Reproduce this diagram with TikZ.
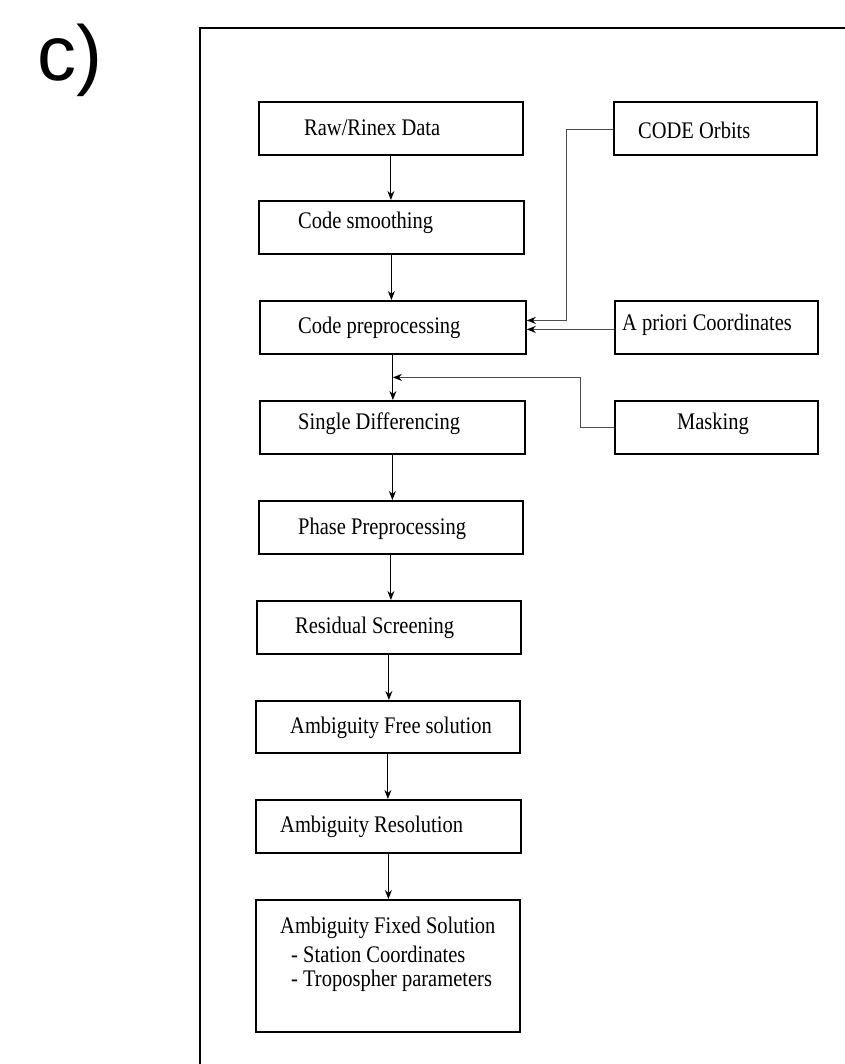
\documentclass[tikz,border=0pt]{standalone}
\usepackage{fontspec}
\usepackage{graphicx}
\setmainfont{Liberation Serif}
\newfontfamily\labelfont{Liberation Sans}
\usetikzlibrary{arrows.meta,calc}
\newcommand{\tall}[1]{\scalebox{1}[1.16]{#1}}
\begin{document}
\begin{tikzpicture}[x=1pt,y=-1pt,
  box/.style={draw,line width=1.8pt,inner sep=0pt,anchor=north west},
  txt/.style={anchor=west,inner sep=0pt,font=\fontsize{20.5}{24}\selectfont},
  flow/.style={line width=1pt,-{Stealth[length=9pt,width=7pt]}},
  side/.style={line width=1pt,draw=black!70,-{Stealth[length=9pt,width=7pt,fill=black,color=black]}}]
\useasboundingbox (0,0) rectangle (844,1064);
\draw[line width=2pt] (200,1070) -- (200,28) -- (850,28);
\node[font=\labelfont\fontsize{78}{80}\selectfont,inner sep=0pt] (lab) at (70,60) {c)};
% main column boxes
\node[box,minimum width=264pt,minimum height=53pt] (raw) at (258,101) {};
\node[box,minimum width=265pt,minimum height=53pt] (smooth) at (258,200) {};
\node[box,minimum width=266pt,minimum height=53pt] (pre) at (259,300) {};
\node[box,minimum width=265pt,minimum height=53pt] (sd) at (259,400) {};
\node[box,minimum width=264pt,minimum height=53pt] (phase) at (258,500) {};
\node[box,minimum width=264pt,minimum height=53pt] (resid) at (256,600) {};
\node[box,minimum width=264pt,minimum height=52pt] (afree) at (255,700) {};
\node[box,minimum width=265pt,minimum height=53pt] (ares) at (255,799) {};
\node[box,minimum width=264pt,minimum height=132pt] (afix) at (255,899) {};
% side boxes
\node[box,minimum width=203pt,minimum height=53pt] (code) at (613,101) {};
\node[box,minimum width=203pt,minimum height=53pt] (apri) at (614,300) {};
\node[box,minimum width=203pt,minimum height=53pt] (mask) at (614,400) {};
% texts
\node[txt] (rawt) at (304,128) {\tall{Raw/Rinex Data}};
\node[txt] (smootht) at (298,223) {\tall{Code smoothing}};
\node[txt] (pret) at (298,328) {\tall{Code preprocessing}};
\node[txt] (sdt) at (298,424) {\tall{Single Differencing}};
\node[txt] (phaset) at (298,529) {\tall{Phase Preprocessing}};
\node[txt] (residt) at (295,628) {\tall{Residual Screening}};
\node[txt] (afreet) at (290,728) {\tall{Ambiguity Free solution}};
\node[txt] (arest) at (280,827) {\tall{Ambiguity Resolution}};
\node[txt] (afixt) at (280,928) {\tall{Ambiguity Fixed Solution}};
\node[txt] (afixa) at (291,954) {\tall{- Station Coordinates}};
\node[txt] (afixb) at (291,981) {\tall{- Tropospher parameters}};
\node[txt] (codet) at (638,130) {\tall{CODE Orbits}};
\node[txt] (aprit) at (622,325) {\tall{A priori Coordinates}};
\node[txt,anchor=center] (maskt) at (713,424) {\tall{Masking}};
% main flow
\draw[flow] (raw.south) -- (raw.south |- smooth.north);
\draw[flow] (smooth.south) -- (smooth.south |- pre.north);
\draw[flow] (pre.south) -- (pre.south |- sd.north);
\draw[flow] (sd.south) -- (sd.south |- phase.north);
\draw[flow] (phase.south) -- (phase.south |- resid.north);
\draw[flow] (resid.south) -- (resid.south |- afree.north);
\draw[flow] (afree.south) -- (afree.south |- ares.north);
\draw[flow] (ares.south) -- (ares.south |- afix.north);
% side inputs
\coordinate (cw) at ([yshift=-1.5pt]code.west);
\coordinate (aw) at ([yshift=-2pt]apri.west);
\coordinate (pe) at ([yshift=7pt]pre.east);
\coordinate (mj) at ($(pre.south)!0.5!(pre.south |- sd.north)$);
\draw[side] (cw) -- ++(-47,0) |- (pe);
\draw[side] (aw) -- (pre.east |- aw);
\draw[side] (mask.west) -- ++(-34,0) |- (mj);
\end{tikzpicture}
\end{document}
